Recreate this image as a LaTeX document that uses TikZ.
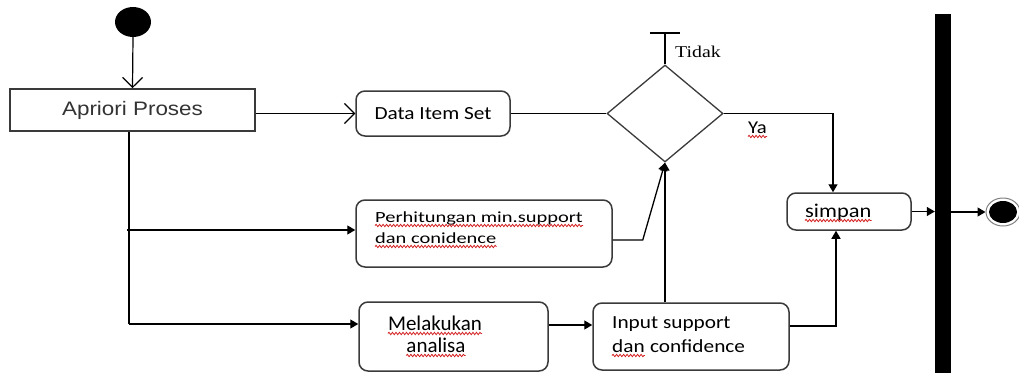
\documentclass[tikz,border=0pt]{standalone}
\usepackage{fontspec}
\setmainfont{Liberation Serif}
\newfontfamily\arialf[FakeStretch=1.15]{Liberation Sans}
\newfontfamily\calf[FakeStretch=1.15]{Carlito}
\newfontfamily\calwide[FakeStretch=1.32]{Carlito}
\newfontfamily\calplain{Carlito}
\newfontfamily\timesf[FakeStretch=1.2]{Liberation Serif}
\usetikzlibrary{arrows.meta,decorations.pathmorphing,shapes.geometric}
\definecolor{boxline}{HTML}{3A3A3A}
\definecolor{txtgray}{HTML}{333333}
\definecolor{squigred}{HTML}{D42020}

\begin{document}
\begin{tikzpicture}[x=1pt,y=-1pt,
  box/.style={draw=boxline, line width=1.5pt, rounded corners=9pt, inner sep=0pt},
  flow/.style={draw=black, line width=1.3pt, -{Triangle[length=8pt,width=9pt]}},
  openflow/.style={draw=black, line width=1.2pt, -{Straight Barb[length=10pt,width=20pt]}},
  plainflow/.style={draw=black, line width=1.3pt},
  txt/.style={inner sep=0pt, anchor=base west},
  squiggle/.style={draw=squigred, line width=0.8pt, decorate,
    decoration={snake, segment length=3.5pt, amplitude=1.2pt}},
]
\useasboundingbox (0,0) rectangle (1019,372);

% initial and final states
\node[ellipse, fill=black, minimum width=36pt, minimum height=30pt, inner sep=0pt] (start) at (133,22) {};
\node[ellipse, draw=gray, line width=1pt, minimum width=34pt, minimum height=28pt, inner sep=0pt] (end) at (1003,212) {};
\node[ellipse, fill=black, minimum width=28pt, minimum height=22pt, inner sep=0pt] (endcore) at (end.center) {};

% activities
\node[draw=boxline, line width=1.6pt, minimum width=245pt, minimum height=42pt, inner sep=0pt,
      font=\arialf\fontsize{19.5}{23}\selectfont, text=txtgray] (apriori) at (132.5,110) {Apriori Proses};
\node[box, minimum width=154pt, minimum height=45pt, font=\calf\fontsize{18.5}{22}\selectfont] (data) at (433,113.5) {Data Item Set};
\node[box, minimum width=256pt, minimum height=67pt] (perh) at (484,233.5) {};
\node[box, minimum width=189pt, minimum height=69pt] (melak) at (453.5,336.5) {};
\node[box, minimum width=196pt, minimum height=67pt] (input) at (691,336.5) {};
\node[box, minimum width=124pt, minimum height=37pt] (simpan) at (849,211.5) {};

% decision and join bar
\node[diamond, draw=boxline, line width=1.3pt, minimum width=116pt, minimum height=97pt, inner sep=0pt] (dec) at (665,113.5) {};
\node[rectangle, fill=black, minimum width=16pt, minimum height=360pt, inner sep=0pt] (bar) at (943,194) {};

% texts inside the activities
\node[txt, font=\calwide\fontsize{15.5}{18}\selectfont] (p1) at (375,222) {Perhitungan min.support};
\node[txt, font=\calwide\fontsize{15.5}{18}\selectfont] (p2) at (375,243) {dan conidence};
\node[inner sep=0pt, anchor=base, font=\calplain\fontsize{21}{24}\selectfont] (m1) at (435,330) {Melakukan};
\node[inner sep=0pt, anchor=base, font=\calplain\fontsize{21}{24}\selectfont] (m2) at (436,352) {analisa};
\node[txt, font=\calf\fontsize{18.5}{22}\selectfont] (i1) at (612,328) {Input support};
\node[txt, font=\calf\fontsize{18.5}{22}\selectfont] (i2a) at (612,352) {dan};
\node[txt, font=\calf\fontsize{18.5}{22}\selectfont] (i2b) at ([xshift=5pt]i2a.base east) {confidence};
\node[txt, font=\calf\fontsize{19.5}{23}\selectfont] (s1) at (805,217) {simpan};

% guard labels
\node[txt, font=\timesf\fontsize{16.5}{20}\selectfont] (tidak) at (675,57) {Tidak};
\node[txt, font=\calf\fontsize{18}{21}\selectfont] (ya) at (748,133) {Ya};

% spelling marks under the words
\foreach \w in {p1,p2,m1,m2,i2a,s1,ya}
  \draw[squiggle] ([yshift=-3.5pt]\w.base west) -- ([yshift=-3.5pt]\w.base east);

% flows
\coordinate (trunkTop) at (127,230);
\coordinate (trunkBot) at (129,324);
\draw[openflow] (start.south) -- (apriori.north);
\draw[openflow] (data.west -| apriori.east) -- (data.west);
\draw[plainflow] (data.east) -- (dec.west);
\draw[plainflow] (apriori.south -| trunkBot) -- (trunkBot);
\draw[flow] (trunkTop) -- (trunkTop -| perh.west);
\draw[flow] (trunkBot) -- (trunkBot -| melak.west);
\draw[flow] ([yshift=11.5pt]melak.east) -- ([yshift=11.5pt]melak.east -| input.west);
\draw[flow] ([yshift=-6.5pt]perh.east) -- ++(30,0) -- (dec.south);
\draw[flow] (dec.south |- input.north) -- (dec.south);
\draw[flow] (dec.east) -| ([xshift=-16pt]simpan.north);
\draw[flow] ([yshift=10.5pt]input.east) -| ([xshift=-13pt]simpan.south);
\draw[flow] (simpan.east) -- (simpan.east -| bar.west);
\draw[flow] (bar.east |- end.west) -- (end.west);
\draw[draw=black, line width=1.3pt, -{Bar[width=30pt]}] (dec.north) -- ++(0,-32);
\end{tikzpicture}
\end{document}
